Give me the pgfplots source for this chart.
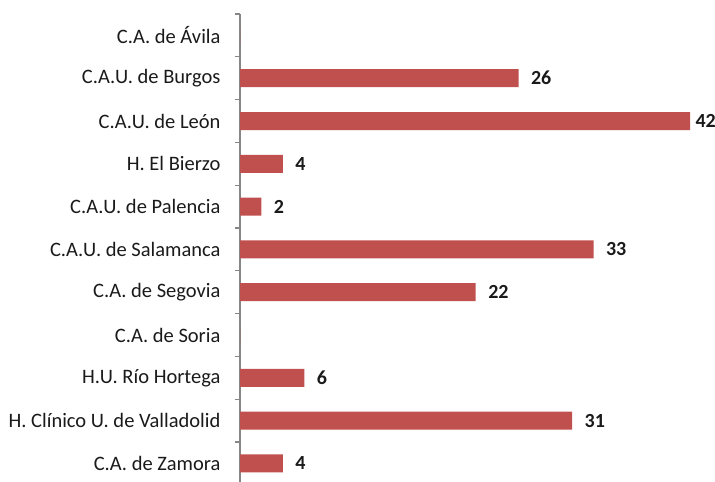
\documentclass[border=0pt]{standalone}
\usepackage{pgfplots}
\pgfplotsset{compat=1.18}
\usepackage{fontspec}
\setmainfont{Carlito}
\definecolor{barred}{HTML}{C0504D}
\definecolor{axgray}{HTML}{868686}
\definecolor{txt}{HTML}{1A1A1A}
\begin{document}
\begin{tikzpicture}[x=1pt,y=1pt]
\path[use as bounding box] (0,0) rectangle (715,482);
\begin{axis}[
  at={(240pt,468pt)}, anchor=north west,
  scale only axis, width=450pt, height=470.8pt,
  xmin=0, xmax=42, ymin=-0.5, ymax=10.5,
  y dir=reverse,
  axis x line=none,
  axis y line*=left,
  axis line style={axgray, line width=1.3pt},
  ytick={-0.5,0.5,...,10.5},
  yticklabels={},
  ytick align=outside,
  major tick length=5pt,
  y tick style={draw=axgray, line width=1.3pt},
  extra y ticks={0,...,10},
  extra y tick labels={C.A. de Ávila, C.A.U. de Burgos, C.A.U. de León, H. El Bierzo, C.A.U. de Palencia, C.A.U. de Salamanca, C.A. de Segovia, C.A. de Soria, H.U. Río Hortega, H. Clínico U. de Valladolid, C.A. de Zamora},
  extra y tick style={y tick style={draw=none}, yticklabel style={font=\fontsize{20.5}{24}\selectfont, text=txt, xshift=-11pt}},
  clip=false,
  xbar, bar width=18pt, bar shift=0pt,
  point meta=x,
  nodes near coords={\pgfmathfloattoint{\pgfplotspointmeta}\let\v\pgfmathresult\ifnum\v=0\relax\else\ifnum\v>40\hspace*{-7pt}\fi\v\fi},
  nodes near coords style={font=\bfseries\fontsize{20}{24}\selectfont, text=txt, anchor=west, xshift=9pt},
]
\addplot[fill=barred, draw=none] coordinates {
 (0,0) (26,1) (42,2) (4,3) (2,4) (33,5) (22,6) (0,7) (6,8) (31,9) (4,10)
};
\end{axis}
\end{tikzpicture}
\end{document}
